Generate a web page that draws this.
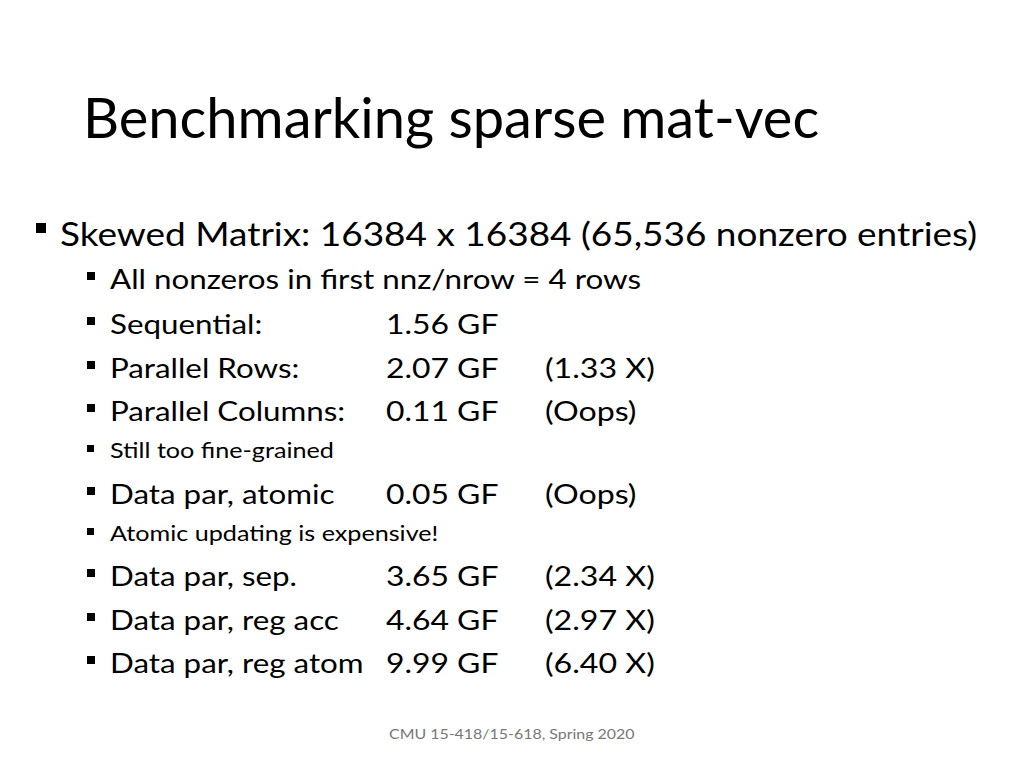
<!DOCTYPE html>
<html>
<head>
<meta charset="utf-8">
<script src="https://cdn.jsdelivr.net/npm/chart.js@4"></script>
<style>
  html, body { margin: 0; padding: 0; background: #fff; }
  #slide { position: relative; width: 1024px; height: 768px; overflow: hidden; font-family: Lato, "Noto Sans", sans-serif; color: #000; }
  .t { position: absolute; white-space: nowrap; line-height: 1; transform-origin: 0 0; }
  .sq { position: absolute; background: #000; }
</style>
</head>
<body>
<div id="slide"></div>
<script>
const title = "Benchmarking sparse mat-vec";
const heading = "Skewed Matrix: 16384 x 16384 (65,536 nonzero entries)";
const rowLabels = ["All nonzeros in first nnz/nrow = 4 rows", "Sequential:", "Parallel Rows:", "Parallel Columns:", "Still too fine-grained", "Data par, atomic", "Atomic updating is expensive!", "Data par, sep.", "Data par, reg acc", "Data par, reg atom"];
const rowGF = ["", "1.56 GF", "2.07 GF", "0.11 GF", "", "0.05 GF", "", "3.65 GF", "4.64 GF", "9.99 GF"];
const rowNote = ["", "", "(1.33 X)", "(Oops)", "", "(Oops)", "", "(2.34 X)", "(2.97 X)", "(6.40 X)"];
const rowSmall = [false, false, false, false, true, false, true, false, false, false];
const footer = "CMU 15-418/15-618, Spring 2020";

// layout
const rowBase = [287, 332, 376, 419, 458, 502, 541, 584, 628, 671];
const slide = document.getElementById("slide");

function addText(str, x, baseline, size, stretch, color) {
  const d = document.createElement("div");
  d.className = "t";
  d.textContent = str;
  d.style.left = x + "px";
  d.style.fontSize = size + "px";
  d.style.top = (baseline - size * 0.82) + "px";
  d.style.transform = "scaleX(" + stretch + ")";
  if (color) d.style.color = color;
  slide.appendChild(d);
  return d;
}
function addSquare(x, y, s) {
  const d = document.createElement("div");
  d.className = "sq";
  d.style.left = x + "px";
  d.style.top = y + "px";
  d.style.width = s + "px";
  d.style.height = s + "px";
  slide.appendChild(d);
}

addText(title, 83, 135, 56, 1.0);
addSquare(36, 223, 10);
addText(heading, 60, 244, 33, 1.12);

rowLabels.forEach((label, i) => {
  const b = rowBase[i];
  const small = rowSmall[i];
  const size = small ? 21.5 : 27;
  if (small) addSquare(87, b - 13, 7);
  else addSquare(87, b - 15, 8);
  addText(label, 110, b, size, small ? 1.17 : 1.16);
  if (rowGF[i]) addText(rowGF[i], 386, b, size, 1.18);
  if (rowNote[i]) addText(rowNote[i], 545, b, size, 1.19);
});

addText(footer, 389, 739, 13.5, 1.18, "#777");
</script>
</body>
</html>
